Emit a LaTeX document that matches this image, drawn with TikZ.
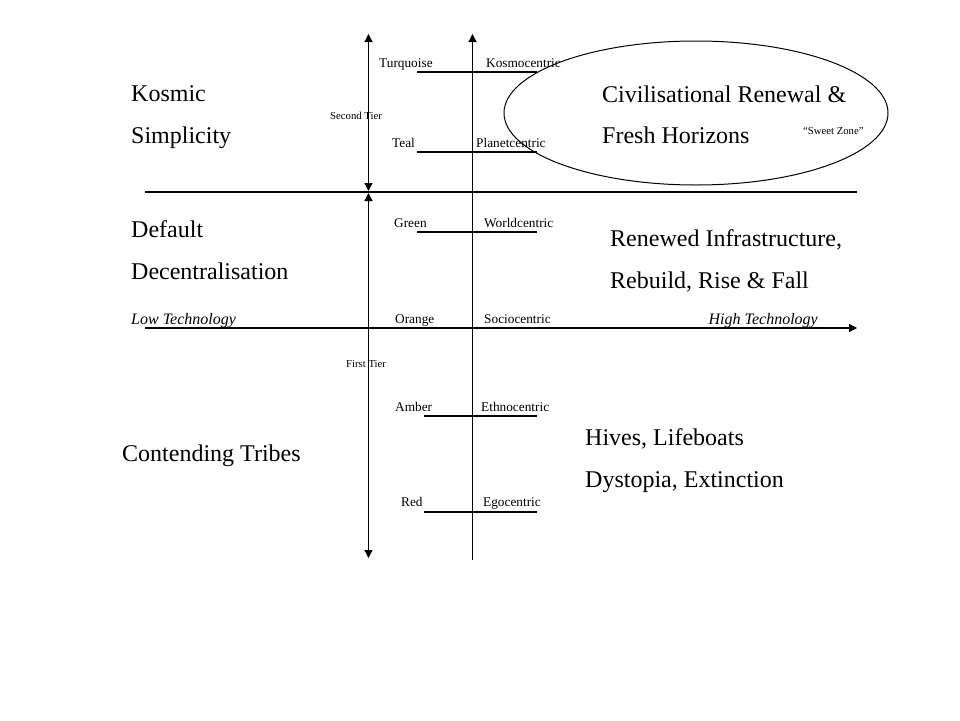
\documentclass[tikz,border=0pt]{standalone}
\usepackage{fontspec}
\setmainfont{Liberation Serif}
\usetikzlibrary{arrows.meta,shapes.geometric}
\begin{document}
\begin{tikzpicture}[x=1pt,y=-1pt,
  axis/.style={line width=1.2pt},
  tip/.style={-{Triangle[length=8pt,width=8pt]}},
  both/.style={{Triangle[length=8pt,width=8pt]}-{Triangle[length=8pt,width=8pt]}},
  tick/.style={line width=1.1pt},
  big/.style={anchor=base west,inner sep=0pt,font=\fontsize{24}{28}\selectfont},
  lab/.style={anchor=base west,inner sep=0pt,font=\fontsize{13.3}{15}\selectfont},
  tiny/.style={anchor=base west,inner sep=0pt,font=\fontsize{10.7}{12}\selectfont},
  axlab/.style={inner sep=0pt,font=\itshape\fontsize{16}{18}\selectfont}]
\useasboundingbox (0,0) rectangle (960,720);
% axes
\coordinate (hl) at (145,192); \coordinate (hr) at (857,192);
\coordinate (al) at (145,328); \coordinate (ar) at (857,328);
\coordinate (ut) at (368.5,34); \coordinate (ub) at (368.5,191);
\coordinate (lt) at (368.5,193); \coordinate (lb) at (368.5,558);
\coordinate (ct) at (472.5,34); \coordinate (cb) at (472.5,560);
\draw[axis] (hl) -- (hr);
\draw[axis,tip] (al) -- (ar);
\draw[axis,both] (ub) -- (ut);
\draw[axis,both] (lt) -- (lb);
\draw[axis,tip] (cb) -- (ct);
% ticks
\coordinate (t1a) at (417,72); \coordinate (t1b) at (537,72);
\coordinate (t2a) at (417,152); \coordinate (t2b) at (537,152);
\coordinate (t3a) at (417,232); \coordinate (t3b) at (537,232);
\coordinate (t4a) at (424,416); \coordinate (t4b) at (537,416);
\coordinate (t5a) at (424,512); \coordinate (t5b) at (537,512);
\draw[tick] (t1a) -- (t1b);
\draw[tick] (t2a) -- (t2b);
\draw[tick] (t3a) -- (t3b);
\draw[tick] (t4a) -- (t4b);
\draw[tick] (t5a) -- (t5b);
% ellipse
\node[draw,line width=1pt,ellipse,minimum width=384pt,minimum height=144pt,inner sep=0pt] (sweet) at (696,113) {};
% small labels
\node[lab] (turq) at (379,67) {Turquoise};
\node[lab] (kosm) at (486,67) {Kosmocentric};
\node[tiny] (second) at (330,119) {Second Tier};
\node[lab] (teal) at (392,147) {Teal};
\node[lab] (plan) at (476,147) {Planetcentric};
\node[lab] (green) at (394,227) {Green};
\node[lab] (world) at (484,227) {Worldcentric};
\node[lab] (orange) at (395,323) {Orange};
\node[lab] (socio) at (484,323) {Sociocentric};
\node[tiny] (first) at (346,367) {First Tier};
\node[lab] (amber) at (395,411) {Amber};
\node[lab] (ethno) at (481,411) {Ethnocentric};
\node[lab] (red) at (401,506) {Red};
\node[lab] (ego) at (483,506) {Egocentric};
\node[tiny] (sz) at (803,134) {``Sweet Zone''};
% big labels
\node[big] (k1) at (131,101) {Kosmic};
\node[big] (k2) at (131,143) {Simplicity};
\node[big] (d1) at (131,237) {Default};
\node[big] (d2) at (131,279) {Decentralisation};
\node[big] (c1) at (122,461) {Contending Tribes};
\node[big] (cr1) at (602,102) {Civilisational Renewal \&};
\node[big] (cr2) at (602,143) {Fresh Horizons};
\node[big] (r1) at (610,246) {Renewed Infrastructure,};
\node[big] (r2) at (610,288) {Rebuild, Rise \& Fall};
\node[big] (h1) at (585,445) {Hives, Lifeboats};
\node[big] (h2) at (585,487) {Dystopia, Extinction};
\node[axlab,anchor=base west] (lowt) at (131,324) {Low Technology};
\node[axlab,anchor=base east] (hight) at (818,324) {High Technology};
\end{tikzpicture}
\end{document}
